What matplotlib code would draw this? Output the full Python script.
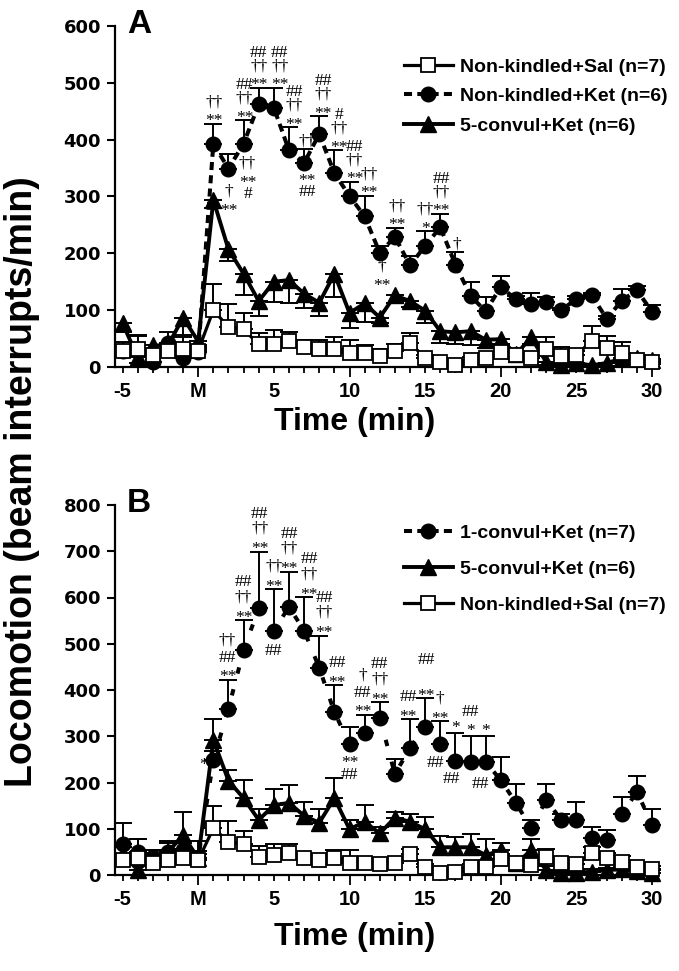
import matplotlib
matplotlib.use("Agg")
import matplotlib.pyplot as plt
from matplotlib.lines import Line2D
import numpy as np

# ---------------- data ----------------
t = list(range(-5, 31))
xtick_pos = [-5, 0, 5, 10, 15, 20, 25, 30]
xtick_lab = ["-5", "M", "5", "10", "15", "20", "25", "30"]

# Panel A
A_sal = [29, 32, 21, 29, 32, 29, 100, 70, 66, 40, 41, 46, 35, 32, 32, 25, 25, 19, 28, 43,
         15, 9, 3, 12, 16, 26, 21, 16, 32, 19, 21, 46, 34, 24, 13, 9]
A_sal_err = [15, 24, 10, 14, 20, 10, 46, 41, 29, 20, 24, 16, 13, 15, 20, 22, 13, 13, 13, 17,
             6, 5, 5, 6, 8, 15, 8, 6, 20, 17, 8, 27, 20, 20, 6, 5]
A_ket = [28, 30, 9, 42, 15, 26, 393, 349, 393, 462, 456, 381, 359, 410, 341, 301, 265, 201, 229, 179,
         213, 246, 180, 125, 98, 141, 119, 110, 114, 100, 120, 126, 85, 117, 135, 97]
A_ket_err = [10, 25, 8, 19, 8, 8, 35, 25, 41, 29, 35, 41, 25, 31, 40, 25, 36, 12, 16, 17,
             26, 24, 22, 25, 26, 19, 6, 20, 10, 4, 5, 4, 5, 21, 8, 12]
A_5c = [77, 17, 38, 38, 87, 45, 294, 207, 164, 116, 150, 153, 129, 113, 164, 95, 112, 87, 126, 116,
        99, 63, 61, 63, 48, 49, 22, 52, 9, 3, 7, 3, 7, 15, 16, 12]
A_5c_err = [15, 10, 10, 10, 30, 10, 15, 20, 38, 26, 36, 41, 26, 24, 41, 26, 32, 9, 14, 10,
            21, 20, 20, 24, 15, 10, 8, 12, 5, 3, 5, 3, 5, 8, 8, 6]

# Panel B
B_1c = [68, 50, 40, 50, 54, 36, 249, 360, 486, 577, 528, 580, 528, 448, 352, 283, 306, 340, 218, 275,
        321, 283, 247, 244, 244, 205, 156, 101, 162, 119, 120, 79, 76, 131, 180, 108]
B_1c_err = [45, 27, 14, 22, 15, 10, 20, 62, 65, 122, 90, 76, 73, 69, 58, 37, 41, 34, 32, 62,
            61, 49, 61, 57, 57, 51, 41, 19, 35, 13, 38, 25, 21, 38, 33, 34]
B_5c = [45, 11, 36, 50, 86, 36, 292, 204, 166, 119, 151, 156, 128, 113, 166, 99, 115, 90, 124, 115,
        99, 60, 60, 60, 43, 53, 25, 53, 11, 4, 5, 7, 11, 12, 8, 5]
B_5c_err = [15, 15, 12, 20, 51, 15, 45, 24, 40, 23, 34, 38, 29, 29, 43, 20, 36, 14, 13, 16,
            27, 24, 22, 29, 35, 16, 10, 25, 8, 5, 5, 5, 5, 5, 5, 5]
B_sal = [32, 37, 25, 32, 37, 32, 101, 72, 68, 40, 43, 47, 36, 32, 36, 27, 27, 23, 27, 45,
         18, 4, 7, 18, 18, 34, 25, 22, 38, 25, 24, 48, 36, 29, 18, 14]
B_sal_err = [10, 40, 30, 42, 20, 42, 48, 45, 28, 23, 24, 20, 10, 8, 18, 26, 10, 8, 8, 12,
             6, 5, 5, 6, 8, 12, 8, 6, 18, 10, 8, 12, 12, 12, 6, 5]

# significance labels: (time, side, labels nearest-first, x nudge px, first-row gap px)
annot_A = [
    (1, "above", ["**", "††"], 1, 8), (2, "below", ["†", "**"], 0, 22),
    (3, "above", ["**", "††", "##"], 1, 8), (3, "below", ["††", "**", "#"], 4, 19),
    (4, "above", ["**", "††", "##"], 0, 8), (5, "above", ["**", "††", "##"], 6, 8),
    (6, "above", ["**", "††", "##"], 5, 8), (7, "above", ["††"], 3, 8), (7, "below", ["**", "##"], 3, 13),
    (8, "above", ["**", "††", "##"], 4, 8), (9, "above", ["**", "††", "#"], 5, 8),
    (10, "above", ["**", "††", "##"], 5, 8), (11, "above", ["**", "††"], 4, 8),
    (12, "below", ["†", "**"], 2, 13), (13, "above", ["**", "††"], 2, 8),
    (15, "above", ["*", "††"], 0, 8), (16, "above", ["**", "††", "##"], 1, 8), (17, "above", ["†"], 1, 9),
]
annot_B = [
    (1, "left", ["*"], -10, 0), (2, "above", ["**", "##", "††"], -1, 8), (3, "above", ["**", "††", "##"], 0, 8),
    (4, "above", ["**", "††", "##"], 1, 8), (5, "above", ["**", "††"], 0, 8), (5, "below", ["##"], 0, 18),
    (6, "above", ["**", "††", "##"], 0, 8), (7, "above", ["**", "††", "##"], 5, 8),
    (8, "above", ["**", "††", "##"], 5, 8), (9, "above", ["**", "##"], 3, 8),
    (10, "below", ["**", "##"], 0, 13), (11, "above", ["**", "##", "†"], -2, 8),
    (12, "above", ["**", "††", "##"], 0, 8), (14, "above", ["**", "##"], -2, 8),
    (15, "above", ["**", "", "##"], 1, 8), (16, "above", ["**", "†"], 0, 8),
    (17, "above", ["*"], 0, 10), (17, "left", ["##"], -20, 0), (18, "above", ["*", "##"], 0, 10),
    (18, "left", ["##"], -19, -15), (19, "above", ["*"], 0, 10), (20, "left", ["##"], -20, -2),
]

# ---------------- style ----------------
plt.rcParams["font.family"] = ["Liberation Sans", "DejaVu Sans"]
W, H = 679, 971
fig = plt.figure(figsize=(W / 100, H / 100), dpi=100)

XL, XR = -5.5, 30.8
PXU = 15.13
def px_axes(left, top, bottom):
    right = left + (XR - XL) * PXU
    return fig.add_axes([left / W, 1 - bottom / H, (right - left) / W, (bottom - top) / H])

axA = px_axes(115, 26, 367)
axB = px_axes(115, 505, 875)

LW = 2.3
DASH_A = (0, (2.0, 1.3))
DASH_B = (0, (1.6, 4.0))
ANN_FONT = dict(family=["Liberation Serif", "DejaVu Serif"], fontsize=12.5)
PT = 72 / 100  # points per pixel
INK_MID = {"*": 9.5, "#": 6.0, "†": 5.0}  # px above baseline of glyph ink centre


def series(ax, y, err, kind, down=False, ls="-"):
    y = np.asarray(y, float)
    err = np.asarray(err, float)
    z = np.zeros_like(err)
    yerr = [err, z] if down else [z, err]
    eb = ax.errorbar(t, y, yerr=yerr, fmt="none", ecolor="black", elinewidth=1.4,
                     capsize=6.5, capthick=1.4, zorder=2)
    for art in eb.get_children():
        art.set_clip_on(False)
    if kind == "sq":
        ax.plot(t, y, ls=ls, color="black", lw=LW, marker="s", ms=9.5,
                mfc="white", mec="black", mew=1.3, zorder=5, clip_on=False)
    elif kind == "ci":
        ax.plot(t, y, ls=ls, color="black", lw=LW + 0.6, marker="o", ms=10.5,
                mfc="black", mec="black", zorder=3, clip_on=False)
    else:
        ax.plot(t, y, ls=ls, color="black", lw=LW + 0.5, marker="^", ms=11,
                mfc="black", mec="black", zorder=4, clip_on=False)


def put(ax, lab, xy, dx, ink_y, ha="center"):
    base = ink_y - INK_MID[lab[0]]
    ax.annotate(lab, xy, xytext=(dx * PT, base * PT), textcoords="offset points",
                ha=ha, va="baseline", zorder=6, **ANN_FONT)


def annotate(ax, notes, y, err, step):
    y = np.asarray(y, float)
    err = np.asarray(err, float)
    for tt, side, labs, dx, gap in notes:
        i = t.index(tt)
        if side == "above":
            for k, lab in enumerate(labs):
                if lab:
                    put(ax, lab, (tt, y[i] + err[i]), dx, gap + step * k)
        elif side == "below":
            for k, lab in enumerate(labs):
                put(ax, lab, (tt, y[i]), dx, -gap - step * k)
        else:
            put(ax, labs[0], (tt, y[i]), dx, gap)


def style_axes(ax, ymax, label_top):
    ax.set_xlim(XL, XR)
    ax.set_ylim(0, ymax)
    for s in ["top", "right"]:
        ax.spines[s].set_visible(False)
    for s in ["left", "bottom"]:
        ax.spines[s].set_linewidth(1.6)
    ax.spines["bottom"].set_bounds(XL, 30.1)
    ax.set_yticks(np.arange(0, ymax + 1, 100))
    ax.set_xticks(xtick_pos)
    ax.set_xticklabels(xtick_lab)
    ax.set_xticks([v for v in t if v not in xtick_pos], minor=True)
    ax.tick_params(axis="y", direction="out", length=6, width=1.5, pad=4)
    ax.tick_params(axis="x", which="major", direction="out", length=4, width=1.3,
                   labelsize=14.5, pad=7)
    ax.tick_params(axis="x", which="minor", direction="out", length=4, width=1.3)
    for tk, pos in zip(ax.xaxis.get_major_ticks(), xtick_pos):
        if pos in (0, 10, 20, 30):
            tk.tick1line.set_markersize(7)
    for lab in ax.get_xticklabels():
        lab.set_fontweight("bold")
    for lab in ax.get_yticklabels():
        lab.set_fontweight("bold")
        lab.set_family("DejaVu Sans")
        lab.set_fontsize(13)
    ax.set_xlabel("Time (min)", fontsize=23, fontweight="bold")
    axh = ax.get_position().height * H
    axw = ax.get_position().width * W
    ax.xaxis.set_label_coords((355 - 115) / axw, -label_top / axh)


# ---------------- panel A ----------------
series(axA, A_ket, A_ket_err, "ci", ls=DASH_A)
series(axA, A_5c, A_5c_err, "tr", down=True)
series(axA, A_sal, A_sal_err, "sq")
annotate(axA, annot_A, A_ket, A_ket_err, step=14.5)
style_axes(axA, 600, 40)
axA.annotate("A", (0, 1), xycoords="axes fraction", xytext=(8.5, 1), textcoords="offset points",
             fontsize=24, fontweight="bold", ha="left", va="center")

hA = [Line2D([], [], color="black", lw=LW, marker="s", ms=9.5, mfc="white", mec="black", mew=1.3),
      Line2D([], [], color="black", lw=LW + 0.6, ls=DASH_A, marker="o", ms=10.5, mfc="black"),
      Line2D([], [], color="black", lw=LW + 0.5, marker="^", ms=11, mfc="black")]
fig.legend(hA, ["Non-kindled+Sal (n=7)", "Non-kindled+Ket (n=6)", "5-convul+Ket (n=6)"],
           loc="upper left", bbox_to_anchor=(404 / W, 1 - 58 / H),
           frameon=False, handlelength=2.5, handletextpad=0.4, labelspacing=0.62,
           prop=dict(weight="bold", size=14), borderpad=0, borderaxespad=0)

# ---------------- panel B ----------------
series(axB, B_1c, B_1c_err, "ci", ls=DASH_B)
series(axB, B_5c, B_5c_err, "tr")
series(axB, B_sal, B_sal_err, "sq")
annotate(axB, annot_B, B_1c, B_1c_err, step=16)
style_axes(axB, 800, 47)
axB.annotate("B", (0, 1), xycoords="axes fraction", xytext=(8.5, 1), textcoords="offset points",
             fontsize=24, fontweight="bold", ha="left", va="center")

hB = [Line2D([], [], color="black", lw=LW + 0.6, ls=DASH_A, marker="o", ms=10.5, mfc="black"),
      Line2D([], [], color="black", lw=LW + 0.5, marker="^", ms=11, mfc="black"),
      Line2D([], [], color="black", lw=LW, marker="s", ms=9.5, mfc="white", mec="black", mew=1.3)]
fig.legend(hB, ["1-convul+Ket (n=7)", "5-convul+Ket (n=6)", "Non-kindled+Sal (n=7)"],
           loc="upper left", bbox_to_anchor=(404 / W, 1 - 524 / H),
           frameon=False, handlelength=2.5, handletextpad=0.4, labelspacing=0.95,
           prop=dict(weight="bold", size=14), borderpad=0, borderaxespad=0)

fig.text(22 / W, 1 - 482 / H, "Locomotion (beam interrupts/min)", rotation=90,
         fontsize=27, fontweight="bold", ha="center", va="center")

fig.savefig("out.png", dpi=100)
